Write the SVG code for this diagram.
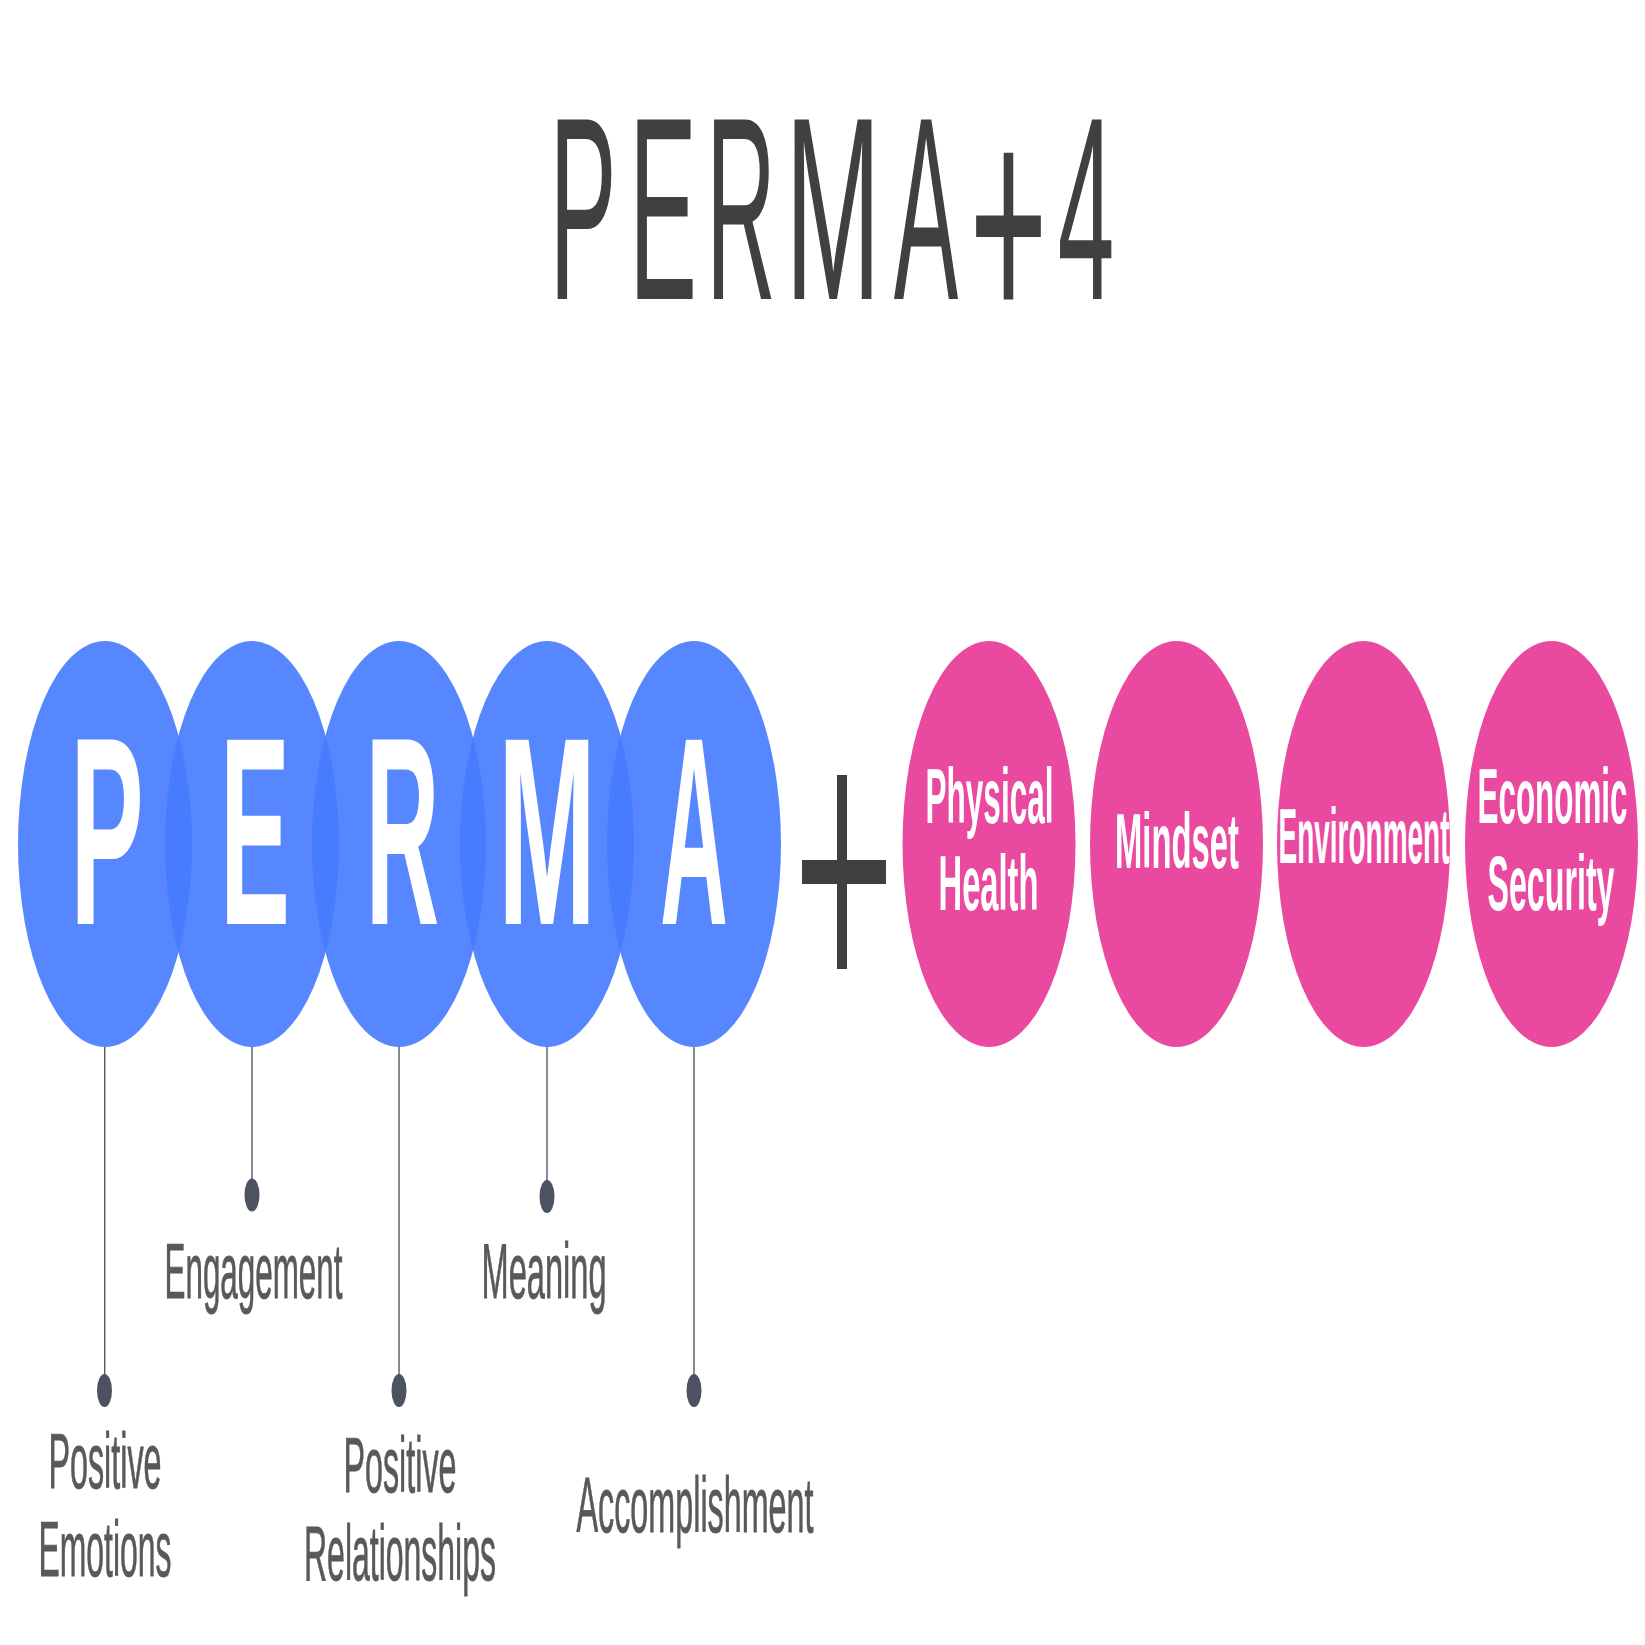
<svg xmlns="http://www.w3.org/2000/svg" width="1645" height="1645" viewBox="0 0 1645 1645">
<style>
.bg{fill:#ffffff}
.blue{fill:#467BFF;fill-opacity:0.91}
.pink{fill:#E94A9F}
.big{font-family:"Liberation Sans",Arial,sans-serif;text-anchor:middle}
.title{fill:#404040;font-size:261px;font-weight:normal}
.letter{fill:#ffffff;font-size:268px;font-weight:bold}
.lbl{font-family:"Liberation Sans",Arial,sans-serif;font-size:78px;fill:#595959;stroke:#595959;stroke-width:0.8;text-anchor:middle}
.wlbl{font-family:"Liberation Sans",Arial,sans-serif;font-size:77px;font-weight:bold;fill:#ffffff;text-anchor:middle}
.conn{stroke:#555a66;stroke-width:1.4;fill:none}
.dot{fill:#4D5263}
.plus{fill:#404040}
</style>
<rect class="bg" x="0" y="0" width="1645" height="1645"/>

<g id="title">
<text class="big title" transform="translate(583,299) scale(0.386,1)" x="0" y="0">P</text>
<text class="big title" transform="translate(663,299) scale(0.39,1)" x="0" y="0">E</text>
<text class="big title" transform="translate(741,299) scale(0.37,1)" x="0" y="0">R</text>
<text class="big title" transform="translate(833,299) scale(0.44,1)" x="0" y="0">M</text>
<text class="big title" transform="translate(926,299) scale(0.37,1)" x="0" y="0">A</text>
<text class="big title" transform="translate(1008.5,326) scale(0.51,1.15)" x="0" y="0">+</text>
<text class="big title" transform="translate(1086,299) scale(0.39,1)" x="0" y="0">4</text>
</g>

<g id="connectors">
<line class="conn" x1="104.7" y1="1047" x2="104.7" y2="1376"/>
<line class="conn" x1="252" y1="1047" x2="252" y2="1180"/>
<line class="conn" x1="399" y1="1047" x2="399" y2="1376"/>
<line class="conn" x1="547" y1="1047" x2="547" y2="1182"/>
<line class="conn" x1="694" y1="1047" x2="694" y2="1376"/>
<ellipse class="dot" cx="104.5" cy="1390.5" rx="7.5" ry="16.5"/>
<ellipse class="dot" cx="252" cy="1195" rx="7.5" ry="16.5"/>
<ellipse class="dot" cx="399" cy="1390.5" rx="7.5" ry="16.5"/>
<ellipse class="dot" cx="547" cy="1196.5" rx="7.5" ry="16.5"/>
<ellipse class="dot" cx="694" cy="1390.5" rx="7.5" ry="16.5"/>
</g>

<g id="node-P">
<ellipse class="blue" cx="105" cy="844" rx="87" ry="203"/>
<text class="big letter" transform="translate(107,924) scale(0.41,1)" x="0" y="0">P</text>
</g>
<g id="node-E">
<ellipse class="blue" cx="252" cy="844" rx="87" ry="203"/>
<text class="big letter" transform="translate(255,924) scale(0.39,1)" x="0" y="0">E</text>
</g>
<g id="node-R">
<ellipse class="blue" cx="399" cy="844" rx="87" ry="203"/>
<text class="big letter" transform="translate(402.5,924) scale(0.38,1)" x="0" y="0">R</text>
</g>
<g id="node-M">
<ellipse class="blue" cx="547" cy="844" rx="87" ry="203"/>
<text class="big letter" transform="translate(547,924) scale(0.44,1)" x="0" y="0">M</text>
</g>
<g id="node-A">
<ellipse class="blue" cx="694" cy="844" rx="87" ry="203"/>
<text class="big letter" transform="translate(694,924) scale(0.35,1)" x="0" y="0">A</text>
</g>

<g id="plus-sign">
<rect class="plus" x="837" y="775" width="10" height="194"/>
<rect class="plus" x="802" y="860" width="84" height="24"/>
</g>

<g id="node-physical-health">
<ellipse class="pink" cx="989" cy="844" rx="86.5" ry="203"/>
<text class="wlbl" x="989.5" y="823" textLength="128" lengthAdjust="spacingAndGlyphs">Physical</text>
<text class="wlbl" x="988.5" y="910" textLength="100" lengthAdjust="spacingAndGlyphs">Health</text>
</g>
<g id="node-mindset">
<ellipse class="pink" cx="1176.5" cy="844" rx="86.5" ry="203"/>
<text class="wlbl" x="1177" y="868" textLength="124" lengthAdjust="spacingAndGlyphs">Mindset</text>
</g>
<g id="node-environment">
<ellipse class="pink" cx="1363.5" cy="844" rx="86.5" ry="203"/>
<text class="wlbl" x="1364" y="863" textLength="171" lengthAdjust="spacingAndGlyphs">Environment</text>
</g>
<g id="node-economic-security">
<ellipse class="pink" cx="1551.5" cy="844" rx="86.5" ry="203"/>
<text class="wlbl" x="1552.5" y="823" textLength="150" lengthAdjust="spacingAndGlyphs">Economic</text>
<text class="wlbl" x="1551" y="910" textLength="127" lengthAdjust="spacingAndGlyphs">Security</text>
</g>

<g id="label-positive-emotions">
<text class="lbl" x="105" y="1488" textLength="113" lengthAdjust="spacingAndGlyphs">Positive</text>
<text class="lbl" x="105" y="1576" textLength="133" lengthAdjust="spacingAndGlyphs">Emotions</text>
</g>
<g id="label-engagement">
<text class="lbl" x="253.5" y="1298" textLength="178" lengthAdjust="spacingAndGlyphs">Engagement</text>
</g>
<g id="label-positive-relationships">
<text class="lbl" x="400" y="1492" textLength="113" lengthAdjust="spacingAndGlyphs">Positive</text>
<text class="lbl" x="400" y="1580" textLength="192" lengthAdjust="spacingAndGlyphs">Relationships</text>
</g>
<g id="label-meaning">
<text class="lbl" x="544" y="1298" textLength="125" lengthAdjust="spacingAndGlyphs">Meaning</text>
</g>
<g id="label-accomplishment">
<text class="lbl" x="695" y="1532" textLength="237" lengthAdjust="spacingAndGlyphs">Accomplishment</text>
</g>
</svg>
